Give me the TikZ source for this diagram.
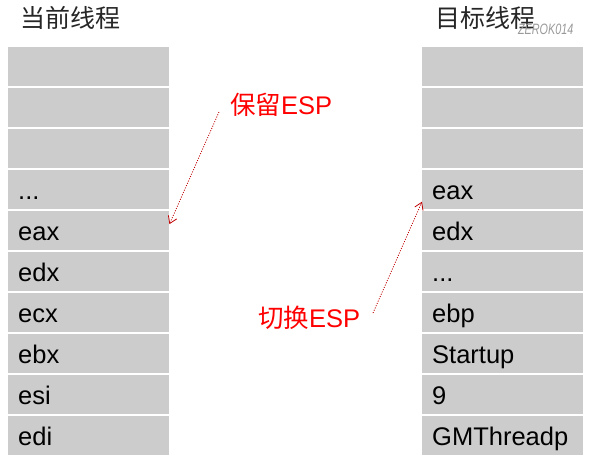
\documentclass[tikz,border=0pt]{standalone}
\usepackage{fontspec}
\setmainfont{Liberation Sans}
\newfontfamily\cjk{Noto Sans CJK SC}
\usetikzlibrary{arrows.meta}
\definecolor{cellgray}{HTML}{CCCCCC}
\definecolor{arrred}{HTML}{C00000}
\begin{document}
\begin{tikzpicture}[x=1pt,y=-1pt,
  cell/.style={fill=cellgray, anchor=north west, minimum height=39pt,
    inner xsep=10pt, inner ysep=0pt, text width=141pt, align=left,
    text height=21pt, text depth=2pt, font=\fontsize{25.5}{30}\selectfont},
  title/.style={anchor=west, inner sep=0pt, font=\cjk\fontsize{25}{30}\selectfont, text=black!85},
  redlabel/.style={anchor=west, inner sep=0pt, text=red, font=\fontsize{25.5}{30}\selectfont},
  arrowline/.style={draw=arrred, line width=0.8pt, dash pattern=on 1pt off 1.5pt,
    -{Straight Barb[length=7pt,width=9pt,line width=0.8pt]}}]
\useasboundingbox (0,0) rectangle (595,466);
% titles
\node[title] (tl) at (20,18) {当前线程};
\node[title] (tr) at (435,18) {目标线程};
\node[anchor=west, inner sep=0pt, text=gray!80, font=\itshape\fontsize{15}{17}\selectfont, xscale=0.72] (wm) at (518,29) {ZEROK014};
% left stack
\node[cell] (l0) at (8,47) {};
\node[cell] (l1) at (8,88) {};
\node[cell] (l2) at (8,129) {};
\node[cell] (l3) at (8,170) {...};
\node[cell] (l4) at (8,211) {eax};
\node[cell] (l5) at (8,252) {edx};
\node[cell] (l6) at (8,293) {ecx};
\node[cell] (l7) at (8,334) {ebx};
\node[cell] (l8) at (8,375) {esi};
\node[cell] (l9) at (8,416) {edi};
% right stack
\node[cell] (r0) at (422,47) {};
\node[cell] (r1) at (422,88) {};
\node[cell] (r2) at (422,129) {};
\node[cell] (r3) at (422,170) {eax};
\node[cell] (r4) at (422,211) {edx};
\node[cell] (r5) at (422,252) {...};
\node[cell] (r6) at (422,293) {ebp};
\node[cell] (r7) at (422,334) {Startup};
\node[cell] (r8) at (422,375) {9};
\node[cell] (r9) at (422,416) {GMThreadp};
% labels
\node[redlabel] (keep) at (230,105) {{\cjk 保留}ESP};
\node[redlabel] (switch) at (258,318) {{\cjk 切换}ESP};
% arrows
\coordinate (a1s) at (219,112);
\coordinate (a2s) at (373,313);
\draw[arrowline] (a1s) -- ([yshift=6.5pt]l4.east);
\draw[arrowline] (a2s) -- ([yshift=-12pt]r3.west);
\end{tikzpicture}
\end{document}
